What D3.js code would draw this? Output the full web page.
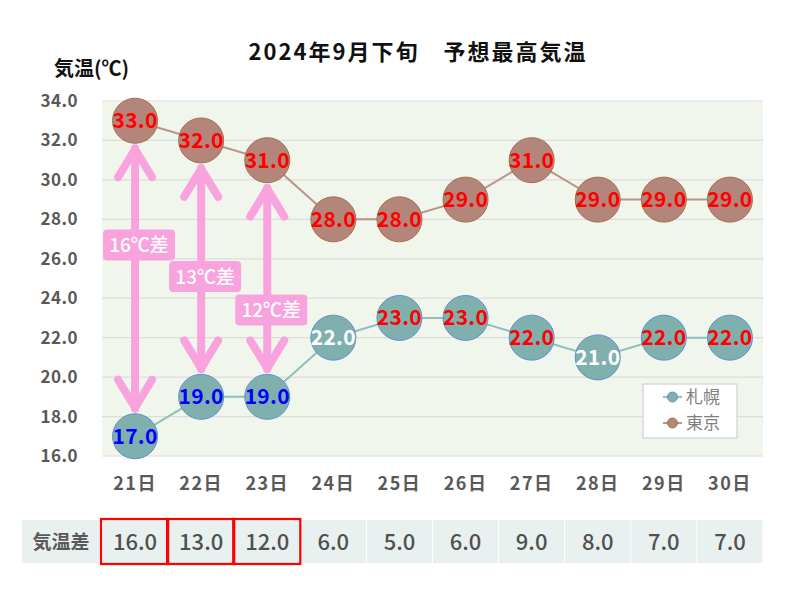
<!DOCTYPE html>
<html><head><meta charset="utf-8">
<script src="https://cdn.jsdelivr.net/npm/d3@7"></script>
<style>body{margin:0;background:#fff;} svg{display:block;font-family:"Noto Sans CJK JP","Noto Sans",sans-serif;}</style>
</head><body><svg id="c" width="800" height="600"></svg>
<script>
const days = ["21日","22日","23日","24日","25日","26日","27日","28日","29日","30日"];
const tokyo = [33,32,31,28,28,29,31,29,29,29];
const sapporo = [17,19,19,22,23,23,22,21,22,22];
const diff = [16.0,13.0,12.0,6.0,5.0,6.0,9.0,8.0,7.0,7.0];
const yTicks = [16,18,20,22,24,26,28,30,32,34];
const highlighted = [0,1,2];
const arrowLabels = ["16℃差","13℃差","12℃差"];
const arrowLabelY = [26.7,25.1,23.4];
const seriesNames = ["札幌","東京"];
const sapporoLabelColors = ["#0000ff","#0000ff","#0000ff","#ffffff","#ff0000","#ff0000","#ff0000","#ffffff","#ff0000","#ff0000"];

const FONT = '"Noto Sans CJK JP","Noto Sans",sans-serif';
const svg = d3.select("#c");
const L=102, R=763, T=101, B=456;
const x = d3.scaleBand().domain(days).range([L,R]);
const y = d3.scaleLinear().domain([16,34]).range([B,T]);
const cx = d => x(d)+x.bandwidth()/2;

// title
svg.append("text").attr("x",418).attr("y",60).attr("text-anchor","middle")
  .attr("font-size",22).attr("font-weight","bold").attr("fill","#111").attr("letter-spacing","2")
  .text("2024年9月下旬　予想最高気温");
svg.append("text").attr("x",54).attr("y",76).attr("font-size",20).attr("font-weight","bold").attr("fill","#111")
  .text("気温(℃)");

// plot bg
svg.append("rect").attr("x",L).attr("y",T).attr("width",R-L).attr("height",B-T).attr("fill","#f1f6ed");
svg.append("g").selectAll("line").data(yTicks).join("line")
  .attr("x1",L).attr("x2",R).attr("y1",d=>y(d)).attr("y2",d=>y(d))
  .attr("stroke","#dcdcdc").attr("stroke-width",1.2);

// y axis labels
const yAxis = d3.axisLeft(y).tickValues(yTicks).tickFormat(d3.format(".1f")).tickSize(0).tickPadding(0);
const ya = svg.append("g").attr("transform",`translate(78,0)`).call(yAxis);
ya.select(".domain").remove();
ya.selectAll("text").attr("font-size",17).attr("font-weight","bold").attr("fill","#595959")
  .attr("letter-spacing","0.5").attr("font-family",FONT);

// x axis labels
const xAxis = d3.axisBottom(x).tickSize(0).tickPadding(0);
const xa = svg.append("g").attr("transform",`translate(0,477)`).call(xAxis);
xa.select(".domain").remove();
xa.selectAll("text").attr("font-size",18).attr("font-weight","bold").attr("fill","#595959")
  .attr("letter-spacing","1.5").attr("font-family",FONT);

// lines
const line = arr => d3.line().x((d,i)=>cx(days[i])).y(d=>y(d))(arr);
svg.append("path").attr("d",line(tokyo)).attr("fill","none").attr("stroke","#b8958a").attr("stroke-width",2);
svg.append("path").attr("d",line(sapporo)).attr("fill","none").attr("stroke","#8fc0bc").attr("stroke-width",2);

const r = 22.5;
// arrows
const pink = "#f9a3de";
highlighted.forEach((i,k)=>{
  const xx = cx(days[i]);
  const top = y(tokyo[i]) + r + 2;
  const bot = y(sapporo[i]) - r - 2;
  const g = svg.append("g").attr("stroke",pink).attr("stroke-width",8).attr("fill","none").attr("stroke-linecap","round").attr("stroke-linejoin","round");
  g.append("line").attr("x1",xx).attr("x2",xx).attr("y1",top+3).attr("y2",bot-3);
  g.append("polyline").attr("points",`${xx-17},${top+32} ${xx},${top+4} ${xx+17},${top+32}`);
  g.append("polyline").attr("points",`${xx-17},${bot-32} ${xx},${bot-4} ${xx+17},${bot-32}`);
  const ly = y(arrowLabelY[k]);
  svg.append("rect").attr("x",xx+4-36).attr("y",ly-15.5).attr("width",72).attr("height",31).attr("rx",4).attr("fill",pink);
  svg.append("text").attr("x",xx+4).attr("y",ly+7).attr("text-anchor","middle").attr("font-size",19)
    .attr("fill","#fff").attr("font-weight","500").text(arrowLabels[k]);
});

// circles tokyo
svg.append("g").selectAll("circle").data(tokyo).join("circle")
  .attr("cx",(d,i)=>cx(days[i])).attr("cy",d=>y(d)).attr("r",r)
  .attr("fill","#b4857b").attr("stroke","#a66e48").attr("stroke-width",1);
svg.append("g").selectAll("text").data(tokyo).join("text")
  .attr("x",(d,i)=>cx(days[i])).attr("y",d=>y(d)+7.5).attr("text-anchor","middle")
  .attr("font-size",21).attr("font-weight","bold").attr("letter-spacing","0.3").attr("fill","#ff0000").text(d=>d.toFixed(1));
// circles sapporo
svg.append("g").selectAll("circle").data(sapporo).join("circle")
  .attr("cx",(d,i)=>cx(days[i])).attr("cy",d=>y(d)).attr("r",r)
  .attr("fill","#7fb0ae").attr("stroke","#5f8fcf").attr("stroke-width",1);
svg.append("g").selectAll("text").data(sapporo).join("text")
  .attr("x",(d,i)=>cx(days[i])).attr("y",d=>y(d)+7.5).attr("text-anchor","middle")
  .attr("font-size",21).attr("font-weight","bold").attr("letter-spacing","0.3").attr("fill",(d,i)=>sapporoLabelColors[i]).text(d=>d.toFixed(1));

// legend
const lg = svg.append("g");
lg.append("rect").attr("x",643).attr("y",384).attr("width",94).attr("height",54).attr("fill","#fff").attr("stroke","#c8c8c8");
const legCols = [["#8fc0bc","#7fb0ae","#5f8fcf"],["#b8958a","#b4857b","#a66e48"]];
seriesNames.forEach((n,i)=>{
  const yy = 397 + i*26;
  lg.append("line").attr("x1",663).attr("x2",682).attr("y1",yy).attr("y2",yy).attr("stroke",legCols[i][0]).attr("stroke-width",2);
  lg.append("circle").attr("cx",672.5).attr("cy",yy).attr("r",5).attr("fill",legCols[i][1]).attr("stroke",legCols[i][2]);
  lg.append("text").attr("x",686).attr("y",yy+6).attr("font-size",17).attr("fill","#7f7f7f").text(n);
});

// table
const tY = 520, tH = 43;
svg.append("rect").attr("x",22).attr("y",tY).attr("width",77).attr("height",tH).attr("fill","#e8f1ef");
svg.append("text").attr("x",61).attr("y",tY+tH/2+7).attr("text-anchor","middle").attr("font-size",19)
  .attr("font-weight","bold").attr("fill","#595959").text("気温差");
svg.append("g").selectAll("rect").data(diff).join("rect")
  .attr("x",(d,i)=>x(days[i])+0.5).attr("y",tY).attr("width",x.bandwidth()-1).attr("height",tH).attr("fill","#e8f1ef");
svg.append("g").selectAll("text").data(diff).join("text")
  .attr("x",(d,i)=>cx(days[i])).attr("y",tY+tH/2+8).attr("text-anchor","middle").attr("font-size",22)
  .attr("font-weight","500").attr("fill","#505050").text(d=>d.toFixed(1));
svg.append("g").selectAll("rect").data(highlighted).join("rect")
  .attr("x",i=>x(days[i])-1).attr("y",tY-1).attr("width",x.bandwidth()+1).attr("height",tH+2)
  .attr("fill","none").attr("stroke","#ff0000").attr("stroke-width",2.2);
</script></body></html>
